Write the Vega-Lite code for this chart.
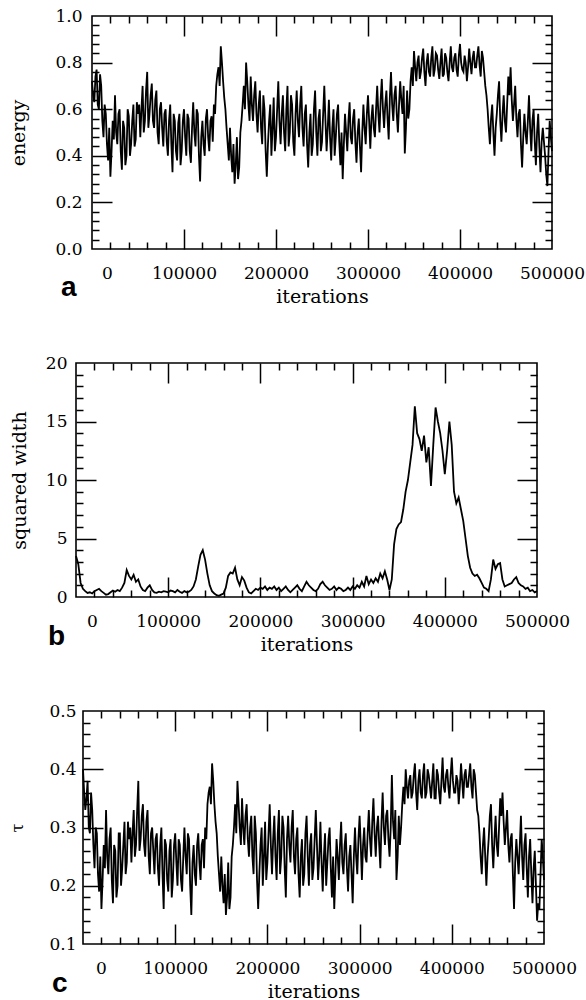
{
"$schema": "https://vega.github.io/schema/vega-lite/v6.json",
"background": "white",
"padding": {"left": 2, "top": 6, "right": 0, "bottom": 0},
"config": {
 "view": {"stroke": "#000", "strokeWidth": 1.6},
 "axis": {"grid": false, "domain": false, "labelFont": "DejaVu Serif", "labelFontSize": 17, "labelColor": "#000", "titleFont": "DejaVu Serif", "titleFontSize": 19, "titleFontWeight": "normal", "titleColor": "#000", "tickColor": "#000", "tickWidth": 1.5, "labelOverlap": false, "labelFlush": false}
},
"data": {"values": [
{"x":0,"e":0.72,"w":3.5,"t":0.40},{"x":2500,"e":0.63,"w":2.8,"t":0.33},{"x":5000,"e":0.77,"w":1.2,"t":0.38},{"x":7500,"e":0.60,"w":0.7,"t":0.29},{"x":10000,"e":0.70,"w":0.5,"t":0.33},{"x":12500,"e":0.48,"w":0.35,"t":0.23},{"x":15000,"e":0.58,"w":0.4,"t":0.29},{"x":17500,"e":0.38,"w":0.3,"t":0.19},{"x":20000,"e":0.31,"w":0.5,"t":0.16},{"x":22500,"e":0.55,"w":0.6,"t":0.27},
{"x":25000,"e":0.66,"w":0.7,"t":0.33},{"x":27500,"e":0.45,"w":0.5,"t":0.22},{"x":30000,"e":0.60,"w":0.35,"t":0.30},{"x":32500,"e":0.34,"w":0.2,"t":0.17},{"x":35000,"e":0.52,"w":0.25,"t":0.26},{"x":37500,"e":0.40,"w":0.4,"t":0.20},{"x":40000,"e":0.57,"w":0.55,"t":0.29},{"x":42500,"e":0.45,"w":0.45,"t":0.23},{"x":45000,"e":0.62,"w":0.6,"t":0.31},{"x":47500,"e":0.47,"w":0.5,"t":0.24},
{"x":50000,"e":0.58,"w":0.8,"t":0.28},{"x":52500,"e":0.48,"w":1.2,"t":0.24},{"x":55000,"e":0.70,"w":2.3,"t":0.33},{"x":57500,"e":0.55,"w":1.8,"t":0.27},{"x":60000,"e":0.76,"w":1.5,"t":0.38},{"x":62500,"e":0.58,"w":1.9,"t":0.28},{"x":65000,"e":0.71,"w":1.3,"t":0.34},{"x":67500,"e":0.52,"w":1.5,"t":0.25},{"x":70000,"e":0.68,"w":0.9,"t":0.33},{"x":72500,"e":0.45,"w":0.6,"t":0.22},
{"x":75000,"e":0.63,"w":0.5,"t":0.30},{"x":77500,"e":0.44,"w":0.8,"t":0.22},{"x":80000,"e":0.60,"w":1.0,"t":0.29},{"x":82500,"e":0.40,"w":0.6,"t":0.20},{"x":85000,"e":0.62,"w":0.4,"t":0.30},{"x":87500,"e":0.33,"w":0.35,"t":0.16},{"x":90000,"e":0.55,"w":0.45,"t":0.27},{"x":92500,"e":0.38,"w":0.4,"t":0.19},{"x":95000,"e":0.58,"w":0.5,"t":0.28},{"x":97500,"e":0.42,"w":0.45,"t":0.21},
{"x":100000,"e":0.60,"w":0.4,"t":0.29},{"x":102500,"e":0.40,"w":0.55,"t":0.20},{"x":105000,"e":0.56,"w":0.5,"t":0.27},{"x":107500,"e":0.37,"w":0.4,"t":0.19},{"x":110000,"e":0.63,"w":0.6,"t":0.30},{"x":112500,"e":0.44,"w":0.45,"t":0.22},{"x":115000,"e":0.58,"w":0.35,"t":0.28},{"x":117500,"e":0.29,"w":0.5,"t":0.15},{"x":120000,"e":0.55,"w":0.4,"t":0.27},{"x":122500,"e":0.40,"w":0.45,"t":0.20},
{"x":125000,"e":0.60,"w":0.6,"t":0.29},{"x":127500,"e":0.42,"w":0.9,"t":0.21},{"x":130000,"e":0.57,"w":1.5,"t":0.28},{"x":132500,"e":0.62,"w":2.6,"t":0.30},{"x":135000,"e":0.70,"w":3.6,"t":0.34},{"x":137500,"e":0.78,"w":4.0,"t":0.37},{"x":140000,"e":0.87,"w":3.2,"t":0.41},{"x":142500,"e":0.72,"w":2.0,"t":0.34},{"x":145000,"e":0.60,"w":1.0,"t":0.29},{"x":147500,"e":0.45,"w":0.5,"t":0.22},
{"x":150000,"e":0.52,"w":0.3,"t":0.25},{"x":152500,"e":0.33,"w":0.15,"t":0.17},{"x":155000,"e":0.28,"w":0.1,"t":0.15},{"x":157500,"e":0.48,"w":0.2,"t":0.24},{"x":160000,"e":0.35,"w":0.3,"t":0.18},{"x":162500,"e":0.55,"w":0.8,"t":0.27},{"x":165000,"e":0.70,"w":1.8,"t":0.34},{"x":167500,"e":0.80,"w":2.1,"t":0.38},{"x":170000,"e":0.62,"w":2.0,"t":0.30},{"x":172500,"e":0.74,"w":2.5,"t":0.35},
{"x":175000,"e":0.55,"w":1.5,"t":0.27},{"x":177500,"e":0.72,"w":1.0,"t":0.34},{"x":180000,"e":0.50,"w":1.7,"t":0.25},{"x":182500,"e":0.68,"w":1.4,"t":0.32},{"x":185000,"e":0.45,"w":0.8,"t":0.22},{"x":187500,"e":0.60,"w":0.4,"t":0.29},{"x":190000,"e":0.31,"w":0.3,"t":0.16},{"x":192500,"e":0.55,"w":0.5,"t":0.27},{"x":195000,"e":0.40,"w":0.7,"t":0.20},{"x":197500,"e":0.65,"w":0.6,"t":0.31},
{"x":200000,"e":0.48,"w":0.8,"t":0.24},{"x":202500,"e":0.72,"w":0.7,"t":0.34},{"x":205000,"e":0.45,"w":0.9,"t":0.22},{"x":207500,"e":0.66,"w":0.6,"t":0.32},{"x":210000,"e":0.42,"w":0.8,"t":0.21},{"x":212500,"e":0.70,"w":0.7,"t":0.33},{"x":215000,"e":0.50,"w":0.9,"t":0.25},{"x":217500,"e":0.62,"w":0.6,"t":0.30},{"x":220000,"e":0.40,"w":0.8,"t":0.18},{"x":222500,"e":0.68,"w":0.5,"t":0.32},
{"x":225000,"e":0.48,"w":0.7,"t":0.24},{"x":227500,"e":0.70,"w":0.9,"t":0.33},{"x":230000,"e":0.44,"w":0.6,"t":0.22},{"x":232500,"e":0.62,"w":0.4,"t":0.30},{"x":235000,"e":0.35,"w":0.6,"t":0.18},{"x":237500,"e":0.58,"w":0.8,"t":0.28},{"x":240000,"e":0.45,"w":1.0,"t":0.22},{"x":242500,"e":0.68,"w":0.7,"t":0.32},{"x":245000,"e":0.40,"w":0.5,"t":0.20},{"x":247500,"e":0.60,"w":0.9,"t":0.29},
{"x":250000,"e":0.46,"w":1.3,"t":0.23},{"x":252500,"e":0.70,"w":1.0,"t":0.33},{"x":255000,"e":0.42,"w":0.8,"t":0.21},{"x":257500,"e":0.64,"w":0.6,"t":0.31},{"x":260000,"e":0.38,"w":0.5,"t":0.19},{"x":262500,"e":0.60,"w":0.7,"t":0.29},{"x":265000,"e":0.48,"w":1.1,"t":0.24},{"x":267500,"e":0.62,"w":1.3,"t":0.30},{"x":270000,"e":0.36,"w":1.0,"t":0.18},{"x":272500,"e":0.30,"w":0.8,"t":0.16},
{"x":275000,"e":0.58,"w":0.6,"t":0.28},{"x":277500,"e":0.42,"w":0.7,"t":0.21},{"x":280000,"e":0.63,"w":0.9,"t":0.31},{"x":282500,"e":0.45,"w":0.6,"t":0.22},{"x":285000,"e":0.60,"w":0.8,"t":0.29},{"x":287500,"e":0.37,"w":0.7,"t":0.19},{"x":290000,"e":0.56,"w":0.5,"t":0.27},{"x":292500,"e":0.33,"w":0.6,"t":0.17},{"x":295000,"e":0.62,"w":0.8,"t":0.30},{"x":297500,"e":0.45,"w":0.6,"t":0.22},
{"x":300000,"e":0.66,"w":0.9,"t":0.32},{"x":302500,"e":0.43,"w":0.7,"t":0.21},{"x":305000,"e":0.62,"w":1.0,"t":0.30},{"x":307500,"e":0.48,"w":0.8,"t":0.24},{"x":310000,"e":0.70,"w":1.3,"t":0.33},{"x":312500,"e":0.50,"w":0.9,"t":0.25},{"x":315000,"e":0.73,"w":1.8,"t":0.35},{"x":317500,"e":0.52,"w":1.1,"t":0.25},{"x":320000,"e":0.68,"w":1.5,"t":0.32},{"x":322500,"e":0.47,"w":1.2,"t":0.23},
{"x":325000,"e":0.76,"w":1.6,"t":0.36},{"x":327500,"e":0.55,"w":1.3,"t":0.27},{"x":330000,"e":0.70,"w":2.0,"t":0.33},{"x":332500,"e":0.50,"w":1.6,"t":0.25},{"x":335000,"e":0.72,"w":2.2,"t":0.39},{"x":337500,"e":0.58,"w":1.5,"t":0.28},{"x":340000,"e":0.41,"w":0.6,"t":0.21},{"x":342500,"e":0.68,"w":1.5,"t":0.32},{"x":345000,"e":0.60,"w":4.5,"t":0.30},{"x":347500,"e":0.78,"w":5.8,"t":0.37},
{"x":350000,"e":0.85,"w":6.2,"t":0.40},{"x":352500,"e":0.72,"w":6.4,"t":0.35},{"x":355000,"e":0.83,"w":7.5,"t":0.39},{"x":357500,"e":0.76,"w":9.0,"t":0.36},{"x":360000,"e":0.86,"w":10.0,"t":0.41},{"x":362500,"e":0.70,"w":11.5,"t":0.33},{"x":365000,"e":0.84,"w":13.0,"t":0.40},{"x":367500,"e":0.74,"w":16.3,"t":0.35},{"x":370000,"e":0.87,"w":14.0,"t":0.41},{"x":372500,"e":0.77,"w":13.5,"t":0.36},
{"x":375000,"e":0.83,"w":12.5,"t":0.39},{"x":377500,"e":0.73,"w":13.8,"t":0.35},{"x":380000,"e":0.86,"w":11.5,"t":0.41},{"x":382500,"e":0.75,"w":12.8,"t":0.35},{"x":385000,"e":0.82,"w":9.5,"t":0.39},{"x":387500,"e":0.72,"w":13.0,"t":0.34},{"x":390000,"e":0.87,"w":16.2,"t":0.42},{"x":392500,"e":0.76,"w":15.0,"t":0.36},{"x":395000,"e":0.84,"w":14.0,"t":0.40},{"x":397500,"e":0.74,"w":12.5,"t":0.35},
{"x":400000,"e":0.88,"w":10.5,"t":0.42},{"x":402500,"e":0.77,"w":12.5,"t":0.36},{"x":405000,"e":0.83,"w":15.0,"t":0.39},{"x":407500,"e":0.72,"w":13.0,"t":0.34},{"x":410000,"e":0.86,"w":9.0,"t":0.41},{"x":412500,"e":0.75,"w":8.0,"t":0.35},{"x":415000,"e":0.85,"w":8.5,"t":0.40},{"x":417500,"e":0.78,"w":7.5,"t":0.37},{"x":420000,"e":0.87,"w":6.5,"t":0.41},{"x":422500,"e":0.74,"w":5.0,"t":0.35},
{"x":425000,"e":0.82,"w":3.5,"t":0.39},{"x":427500,"e":0.70,"w":2.5,"t":0.33},{"x":430000,"e":0.60,"w":2.0,"t":0.29},{"x":432500,"e":0.45,"w":1.8,"t":0.22},{"x":435000,"e":0.62,"w":1.9,"t":0.30},{"x":437500,"e":0.40,"w":1.6,"t":0.20},{"x":440000,"e":0.58,"w":1.2,"t":0.28},{"x":442500,"e":0.72,"w":0.8,"t":0.34},{"x":445000,"e":0.46,"w":0.7,"t":0.23},{"x":447500,"e":0.66,"w":0.5,"t":0.32},
{"x":450000,"e":0.50,"w":1.5,"t":0.25},{"x":452500,"e":0.74,"w":3.2,"t":0.35},{"x":455000,"e":0.78,"w":2.4,"t":0.36},{"x":457500,"e":0.55,"w":2.8,"t":0.27},{"x":460000,"e":0.70,"w":2.9,"t":0.33},{"x":462500,"e":0.48,"w":1.5,"t":0.24},{"x":465000,"e":0.60,"w":0.9,"t":0.29},{"x":467500,"e":0.35,"w":1.0,"t":0.16},{"x":470000,"e":0.58,"w":1.1,"t":0.28},{"x":472500,"e":0.45,"w":1.2,"t":0.22},
{"x":475000,"e":0.66,"w":1.5,"t":0.32},{"x":477500,"e":0.42,"w":1.7,"t":0.21},{"x":480000,"e":0.60,"w":1.2,"t":0.29},{"x":482500,"e":0.36,"w":1.0,"t":0.18},{"x":485000,"e":0.58,"w":0.9,"t":0.28},{"x":487500,"e":0.33,"w":0.7,"t":0.17},{"x":490000,"e":0.52,"w":0.8,"t":0.26},{"x":492500,"e":0.40,"w":0.5,"t":0.14},{"x":495000,"e":0.27,"w":0.6,"t":0.16},{"x":497500,"e":0.55,"w":0.4,"t":0.28},
{"x":500000,"e":0.42,"w":0.5,"t":0.21},
{"x":1250,"e":0.66,"t":0.36},{"x":3750,"e":0.74,"t":0.35},{"x":6250,"e":0.62,"t":0.30},{"x":8750,"e":0.75,"t":0.36},{"x":11250,"e":0.55,"t":0.27},{"x":13750,"e":0.62,"t":0.30},{"x":16250,"e":0.45,"t":0.22},{"x":18750,"e":0.52,"t":0.25},{"x":21250,"e":0.42,"t":0.21},{"x":23750,"e":0.47,"t":0.23},
{"x":26250,"e":0.50,"t":0.25},{"x":28750,"e":0.58,"t":0.28},{"x":31250,"e":0.42,"t":0.21},{"x":33750,"e":0.55,"t":0.27},{"x":36250,"e":0.36,"t":0.18},{"x":38750,"e":0.60,"t":0.29},{"x":41250,"e":0.40,"t":0.20},{"x":43750,"e":0.55,"t":0.27},{"x":46250,"e":0.44,"t":0.22},{"x":48750,"e":0.63,"t":0.31},
{"x":51250,"e":0.62,"t":0.30},{"x":53750,"e":0.60,"t":0.29},{"x":56250,"e":0.50,"t":0.25},{"x":58750,"e":0.68,"t":0.33},{"x":61250,"e":0.52,"t":0.26},{"x":63750,"e":0.66,"t":0.32},{"x":66250,"e":0.55,"t":0.27},{"x":68750,"e":0.64,"t":0.31},{"x":71250,"e":0.50,"t":0.25},{"x":73750,"e":0.60,"t":0.29},
{"x":76250,"e":0.52,"t":0.26},{"x":78750,"e":0.58,"t":0.28},{"x":81250,"e":0.46,"t":0.23},{"x":83750,"e":0.55,"t":0.27},{"x":86250,"e":0.45,"t":0.22},{"x":88750,"e":0.58,"t":0.28},{"x":91250,"e":0.42,"t":0.21},{"x":93750,"e":0.54,"t":0.26},{"x":96250,"e":0.36,"t":0.18},{"x":98750,"e":0.55,"t":0.27},
{"x":101250,"e":0.48,"t":0.24},{"x":103750,"e":0.58,"t":0.28},{"x":106250,"e":0.42,"t":0.21},{"x":108750,"e":0.52,"t":0.25},{"x":111250,"e":0.50,"t":0.25},{"x":113750,"e":0.60,"t":0.29},{"x":116250,"e":0.40,"t":0.20},{"x":118750,"e":0.48,"t":0.24},{"x":121250,"e":0.45,"t":0.22},{"x":123750,"e":0.56,"t":0.27},
{"x":126250,"e":0.48,"t":0.24},{"x":128750,"e":0.55,"t":0.27},{"x":131250,"e":0.46,"t":0.23},{"x":133750,"e":0.58,"t":0.28},{"x":136250,"e":0.75,"t":0.36},{"x":138750,"e":0.70,"t":0.34},{"x":141250,"e":0.80,"t":0.38},{"x":143750,"e":0.65,"t":0.31},{"x":146250,"e":0.52,"t":0.25},{"x":148750,"e":0.38,"t":0.19},
{"x":151250,"e":0.40,"t":0.20},{"x":153750,"e":0.45,"t":0.22},{"x":156250,"e":0.36,"t":0.18},{"x":158750,"e":0.30,"t":0.16},{"x":161250,"e":0.50,"t":0.25},{"x":163750,"e":0.62,"t":0.30},{"x":166250,"e":0.60,"t":0.29},{"x":168750,"e":0.72,"t":0.34},{"x":171250,"e":0.55,"t":0.27},{"x":173750,"e":0.62,"t":0.30},
{"x":176250,"e":0.66,"t":0.32},{"x":178750,"e":0.58,"t":0.28},{"x":181250,"e":0.62,"t":0.30},{"x":183750,"e":0.52,"t":0.25},{"x":186250,"e":0.66,"t":0.32},{"x":188750,"e":0.42,"t":0.21},{"x":191250,"e":0.45,"t":0.22},{"x":193750,"e":0.62,"t":0.30},{"x":196250,"e":0.52,"t":0.25},{"x":198750,"e":0.42,"t":0.21},
{"x":201250,"e":0.60,"t":0.29},{"x":203750,"e":0.55,"t":0.27},{"x":206250,"e":0.58,"t":0.28},{"x":208750,"e":0.50,"t":0.25},{"x":211250,"e":0.60,"t":0.29},{"x":213750,"e":0.44,"t":0.22},{"x":216250,"e":0.66,"t":0.32},{"x":218750,"e":0.46,"t":0.23},{"x":221250,"e":0.58,"t":0.28},{"x":223750,"e":0.55,"t":0.27},
{"x":226250,"e":0.62,"t":0.30},{"x":228750,"e":0.52,"t":0.25},{"x":231250,"e":0.58,"t":0.28},{"x":233750,"e":0.45,"t":0.22},{"x":236250,"e":0.50,"t":0.25},{"x":238750,"e":0.40,"t":0.20},{"x":241250,"e":0.60,"t":0.29},{"x":243750,"e":0.50,"t":0.25},{"x":246250,"e":0.56,"t":0.27},{"x":248750,"e":0.42,"t":0.21},
{"x":251250,"e":0.58,"t":0.28},{"x":253750,"e":0.55,"t":0.27},{"x":256250,"e":0.52,"t":0.25},{"x":258750,"e":0.48,"t":0.24},{"x":261250,"e":0.52,"t":0.25},{"x":263750,"e":0.40,"t":0.20},{"x":266250,"e":0.58,"t":0.28},{"x":268750,"e":0.46,"t":0.23},{"x":271250,"e":0.50,"t":0.25},{"x":273750,"e":0.45,"t":0.22},
{"x":276250,"e":0.50,"t":0.25},{"x":278750,"e":0.55,"t":0.27},{"x":281250,"e":0.48,"t":0.24},{"x":283750,"e":0.56,"t":0.27},{"x":286250,"e":0.46,"t":0.23},{"x":288750,"e":0.50,"t":0.25},{"x":291250,"e":0.44,"t":0.22},{"x":293750,"e":0.50,"t":0.25},{"x":296250,"e":0.52,"t":0.25},{"x":298750,"e":0.58,"t":0.28},
{"x":301250,"e":0.55,"t":0.27},{"x":303750,"e":0.56,"t":0.27},{"x":306250,"e":0.52,"t":0.25},{"x":308750,"e":0.60,"t":0.29},{"x":311250,"e":0.58,"t":0.28},{"x":313750,"e":0.64,"t":0.31},{"x":316250,"e":0.60,"t":0.29},{"x":318750,"e":0.62,"t":0.30},{"x":321250,"e":0.56,"t":0.27},{"x":323750,"e":0.65,"t":0.31},
{"x":326250,"e":0.62,"t":0.30},{"x":328750,"e":0.66,"t":0.32},{"x":331250,"e":0.58,"t":0.28},{"x":333750,"e":0.62,"t":0.30},{"x":336250,"e":0.64,"t":0.31},{"x":338750,"e":0.70,"t":0.33},{"x":341250,"e":0.52,"t":0.25},{"x":343750,"e":0.56,"t":0.27},{"x":346250,"e":0.72,"t":0.34},{"x":348750,"e":0.70,"t":0.34},
{"x":351250,"e":0.78,"t":0.37},{"x":353750,"e":0.80,"t":0.38},{"x":356250,"e":0.73,"t":0.35},{"x":358750,"e":0.82,"t":0.39},{"x":361250,"e":0.76,"t":0.36},{"x":363750,"e":0.80,"t":0.38},{"x":366250,"e":0.76,"t":0.36},{"x":368750,"e":0.82,"t":0.39},{"x":371250,"e":0.74,"t":0.35},{"x":373750,"e":0.84,"t":0.40},
{"x":376250,"e":0.77,"t":0.37},{"x":378750,"e":0.80,"t":0.38},{"x":381250,"e":0.74,"t":0.35},{"x":383750,"e":0.84,"t":0.40},{"x":386250,"e":0.76,"t":0.36},{"x":388750,"e":0.80,"t":0.38},{"x":391250,"e":0.78,"t":0.37},{"x":393750,"e":0.82,"t":0.39},{"x":396250,"e":0.77,"t":0.37},{"x":398750,"e":0.83,"t":0.39},
{"x":401250,"e":0.80,"t":0.38},{"x":403750,"e":0.76,"t":0.36},{"x":406250,"e":0.80,"t":0.38},{"x":408750,"e":0.78,"t":0.37},{"x":411250,"e":0.80,"t":0.38},{"x":413750,"e":0.82,"t":0.39},{"x":416250,"e":0.78,"t":0.37},{"x":418750,"e":0.83,"t":0.39},{"x":421250,"e":0.79,"t":0.37},{"x":423750,"e":0.85,"t":0.40},
{"x":426250,"e":0.76,"t":0.36},{"x":428750,"e":0.66,"t":0.32},{"x":431250,"e":0.52,"t":0.25},{"x":433750,"e":0.56,"t":0.27},{"x":436250,"e":0.50,"t":0.25},{"x":438750,"e":0.52,"t":0.25},{"x":441250,"e":0.66,"t":0.32},{"x":443750,"e":0.55,"t":0.27},{"x":446250,"e":0.58,"t":0.28},{"x":448750,"e":0.55,"t":0.27},
{"x":451250,"e":0.62,"t":0.30},{"x":453750,"e":0.66,"t":0.32},{"x":456250,"e":0.64,"t":0.31},{"x":458750,"e":0.62,"t":0.30},{"x":461250,"e":0.56,"t":0.27},{"x":463750,"e":0.58,"t":0.28},{"x":466250,"e":0.45,"t":0.22},{"x":468750,"e":0.48,"t":0.24},{"x":471250,"e":0.50,"t":0.25},{"x":473750,"e":0.55,"t":0.27},
{"x":476250,"e":0.52,"t":0.25},{"x":478750,"e":0.55,"t":0.27},{"x":481250,"e":0.46,"t":0.23},{"x":483750,"e":0.50,"t":0.25},{"x":486250,"e":0.44,"t":0.22},{"x":488750,"e":0.46,"t":0.23},{"x":491250,"e":0.46,"t":0.20},{"x":493750,"e":0.32,"t":0.17},{"x":496250,"e":0.42,"t":0.22},{"x":498750,"e":0.48,"t":0.25}
]},
"vconcat": [
{"hconcat": [
{"width": 1, "height": 1, "view": {"stroke": null}, "data": {"values": [{"k": 0}]}, "mark": {"type": "point", "opacity": 0}, "encoding": {}},
{
 "width": 460, "height": 233,
 "title": {"text": "a", "orient": "bottom", "anchor": "start", "frame": "group", "font": "Liberation Sans", "fontSize": 28, "fontWeight": "bold", "color": "#000", "dx": -31, "dy": -32, "offset": 0},
 "layer": [
  {"mark": {"type": "line", "color": "#000", "strokeWidth": 1.8},
   "encoding": {
    "x": {"field": "x", "type": "quantitative", "scale": {"domain": [0, 500000], "nice": false, "zero": false},
          "axis": {"orient": "bottom", "values": [0,100000,200000,300000,400000,500000], "format": "d", "ticks": false, "labelPadding": 16, "labelOffset": {"condition": {"test": "datum.value === 0", "value": 15}, "value": 0}, "title": "iterations", "titlePadding": 6}},
    "y": {"field": "e", "type": "quantitative", "scale": {"domain": [0, 1], "nice": false, "zero": false},
          "axis": {"orient": "left", "values": [0,0.2,0.4,0.6,0.8,1], "format": ".1f", "ticks": false, "labelPadding": 10, "title": "energy", "titlePadding": 26}}
   }},
  {"mark": {"type": "line", "opacity": 0},
   "encoding": {
    "x": {"field": "x", "type": "quantitative", "axis": {"orient": "bottom", "values": [20000,40000,60000,80000,100000,120000,140000,160000,180000,200000,220000,240000,260000,280000,300000,320000,340000,360000,380000,400000,420000,440000,460000,480000], "labels": false, "title": null, "tickSize": {"condition": {"test": "datum.value % 100000 === 0", "value": -20}, "value": -7}}},
    "y": {"field": "e", "type": "quantitative", "axis": {"orient": "left", "values": [0.04,0.08,0.12,0.16,0.2,0.24,0.28,0.32,0.36,0.4,0.44,0.48,0.52,0.56,0.6,0.64,0.68,0.72,0.76,0.8,0.84,0.88,0.92,0.96], "labels": false, "title": null, "tickSize": {"condition": {"test": "abs(datum.value*5 - round(datum.value*5)) < 0.001", "value": -20}, "value": -7}}}
   }},
  {"mark": {"type": "line", "opacity": 0},
   "encoding": {
    "x": {"field": "x", "type": "quantitative", "axis": {"orient": "top", "values": [20000,40000,60000,80000,100000,120000,140000,160000,180000,200000,220000,240000,260000,280000,300000,320000,340000,360000,380000,400000,420000,440000,460000,480000], "labels": false, "title": null, "tickSize": {"condition": {"test": "datum.value % 100000 === 0", "value": -20}, "value": -7}}},
    "y": {"field": "e", "type": "quantitative", "axis": {"orient": "right", "values": [0.04,0.08,0.12,0.16,0.2,0.24,0.28,0.32,0.36,0.4,0.44,0.48,0.52,0.56,0.6,0.64,0.68,0.72,0.76,0.8,0.84,0.88,0.92,0.96], "labels": false, "title": null, "tickSize": {"condition": {"test": "abs(datum.value*5 - round(datum.value*5)) < 0.001", "value": -20}, "value": -7}}}
   }}
 ],
 "resolve": {"axis": {"x": "independent", "y": "independent"}}
}], "spacing": 0},
{"hconcat": [
{"width": 1, "height": 1, "view": {"stroke": null}, "data": {"values": [{"k": 0}]}, "mark": {"type": "point", "opacity": 0}, "encoding": {}},
{
 "width": 461, "height": 234,
 "title": {"text": "b", "orient": "bottom", "anchor": "start", "frame": "group", "font": "Liberation Sans", "fontSize": 28, "fontWeight": "bold", "color": "#000", "dx": -28, "dy": -31, "offset": 0},
 "layer": [
  {"transform": [{"filter": "isValid(datum.w)"}],
   "mark": {"type": "line", "color": "#000", "strokeWidth": 1.8},
   "encoding": {
    "x": {"field": "x", "type": "quantitative", "scale": {"domain": [0, 500000], "nice": false, "zero": false},
          "axis": {"orient": "bottom", "values": [0,100000,200000,300000,400000,500000], "format": "d", "ticks": false, "labelPadding": 16, "labelOffset": {"condition": {"test": "datum.value === 0", "value": 16}, "value": 0}, "title": "iterations", "titlePadding": 6}},
    "y": {"field": "w", "type": "quantitative", "scale": {"domain": [0, 20], "nice": false, "zero": false},
          "axis": {"orient": "left", "values": [0,5,10,15,20], "format": "d", "ticks": false, "labelPadding": 9, "title": "squared width", "titlePadding": 16}}
   }},
  {"transform": [{"filter": "isValid(datum.w)"}],
   "mark": {"type": "line", "opacity": 0},
   "encoding": {
    "x": {"field": "x", "type": "quantitative", "axis": {"orient": "bottom", "values": [20000,40000,60000,80000,100000,120000,140000,160000,180000,200000,220000,240000,260000,280000,300000,320000,340000,360000,380000,400000,420000,440000,460000,480000], "labels": false, "title": null, "tickSize": {"condition": {"test": "datum.value % 100000 === 0", "value": -20}, "value": -7}}},
    "y": {"field": "w", "type": "quantitative", "axis": {"orient": "left", "values": [1,2,3,4,5,6,7,8,9,10,11,12,13,14,15,16,17,18,19], "labels": false, "title": null, "tickSize": {"condition": {"test": "datum.value % 5 === 0", "value": -20}, "value": -7}}}
   }},
  {"transform": [{"filter": "isValid(datum.w)"}],
   "mark": {"type": "line", "opacity": 0},
   "encoding": {
    "x": {"field": "x", "type": "quantitative", "axis": {"orient": "top", "values": [20000,40000,60000,80000,100000,120000,140000,160000,180000,200000,220000,240000,260000,280000,300000,320000,340000,360000,380000,400000,420000,440000,460000,480000], "labels": false, "title": null, "tickSize": {"condition": {"test": "datum.value % 100000 === 0", "value": -20}, "value": -7}}},
    "y": {"field": "w", "type": "quantitative", "axis": {"orient": "right", "values": [1,2,3,4,5,6,7,8,9,10,11,12,13,14,15,16,17,18,19], "labels": false, "title": null, "tickSize": {"condition": {"test": "datum.value % 5 === 0", "value": -20}, "value": -7}}}
   }}
 ],
 "resolve": {"axis": {"x": "independent", "y": "independent"}}
}], "spacing": 0},
{"hconcat": [
{"width": 1, "height": 1, "view": {"stroke": null}, "data": {"values": [{"k": 0}]}, "mark": {"type": "point", "opacity": 0}, "encoding": {}},
{
 "width": 461, "height": 233,
 "title": {"text": "c", "orient": "bottom", "anchor": "start", "frame": "group", "font": "Liberation Sans", "fontSize": 28, "fontWeight": "bold", "color": "#000", "dx": -31, "dy": -31, "offset": 0},
 "layer": [
  {"mark": {"type": "line", "color": "#000", "strokeWidth": 1.8},
   "encoding": {
    "x": {"field": "x", "type": "quantitative", "scale": {"domain": [0, 500000], "nice": false, "zero": false},
          "axis": {"orient": "bottom", "values": [0,100000,200000,300000,400000,500000], "format": "d", "ticks": false, "labelPadding": 16, "labelOffset": {"condition": {"test": "datum.value === 0", "value": 18}, "value": 0}, "title": "iterations", "titlePadding": 6}},
    "y": {"field": "t", "type": "quantitative", "scale": {"domain": [0.1, 0.5], "nice": false, "zero": false},
          "axis": {"orient": "left", "values": [0.1,0.2,0.3,0.4,0.5], "format": ".1f", "ticks": false, "labelPadding": 7, "title": "τ", "titleFontSize": 16, "titlePadding": 23}}
   }},
  {"mark": {"type": "line", "opacity": 0},
   "encoding": {
    "x": {"field": "x", "type": "quantitative", "axis": {"orient": "bottom", "values": [20000,40000,60000,80000,100000,120000,140000,160000,180000,200000,220000,240000,260000,280000,300000,320000,340000,360000,380000,400000,420000,440000,460000,480000], "labels": false, "title": null, "tickSize": {"condition": {"test": "datum.value % 100000 === 0", "value": -20}, "value": -7}}},
    "y": {"field": "t", "type": "quantitative", "axis": {"orient": "left", "values": [0.12,0.14,0.16,0.18,0.2,0.22,0.24,0.26,0.28,0.3,0.32,0.34,0.36,0.38,0.4,0.42,0.44,0.46,0.48], "labels": false, "title": null, "tickSize": {"condition": {"test": "abs(datum.value*10 - round(datum.value*10)) < 0.001", "value": -20}, "value": -7}}}
   }},
  {"mark": {"type": "line", "opacity": 0},
   "encoding": {
    "x": {"field": "x", "type": "quantitative", "axis": {"orient": "top", "values": [20000,40000,60000,80000,100000,120000,140000,160000,180000,200000,220000,240000,260000,280000,300000,320000,340000,360000,380000,400000,420000,440000,460000,480000], "labels": false, "title": null, "tickSize": {"condition": {"test": "datum.value % 100000 === 0", "value": -20}, "value": -7}}},
    "y": {"field": "t", "type": "quantitative", "axis": {"orient": "right", "values": [0.12,0.14,0.16,0.18,0.2,0.22,0.24,0.26,0.28,0.3,0.32,0.34,0.36,0.38,0.4,0.42,0.44,0.46,0.48], "labels": false, "title": null, "tickSize": {"condition": {"test": "abs(datum.value*10 - round(datum.value*10)) < 0.001", "value": -20}, "value": -7}}}
   }}
 ],
 "resolve": {"axis": {"x": "independent", "y": "independent"}}
}], "spacing": 0}
],
"spacing": 46
}
